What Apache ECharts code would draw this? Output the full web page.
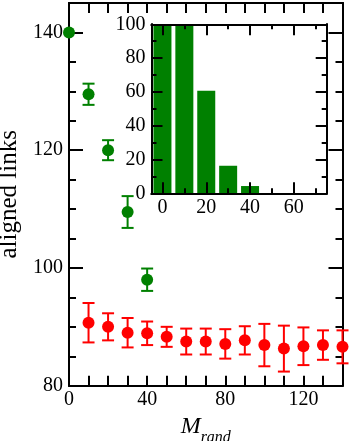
<!DOCTYPE html>
<html>
<head>
<meta charset="utf-8">
<script src="https://cdn.jsdelivr.net/npm/echarts@6/dist/echarts.min.js"></script>
<style>
  html, body { margin: 0; padding: 0; background: #fff; }
  #chart { width: 349px; height: 441px; }
</style>
</head>
<body>
<div id="chart"></div>
<script>
// main panel: aligned links vs M_rand
var greenX = [0, 10, 20, 30, 40];
var greenY = [140, 129.5, 120, 109.5, 98];
var greenErr = [0, 1.8, 1.7, 2.7, 1.9];

var redX = [10, 20, 30, 40, 50, 60, 70, 80, 90, 100, 110, 120, 130, 140];
var redY = [90.7, 90.0, 89.0, 88.9, 88.3, 87.5, 87.5, 87.1, 87.7, 86.9, 86.3, 86.7, 86.9, 86.6];
var redErr = [3.35, 2.3, 2.5, 2.0, 1.7, 2.2, 2.2, 2.5, 2.4, 3.6, 3.9, 3.2, 2.5, 2.8];

// inset histogram
var binX = [0, 10, 20, 30, 40];
var binH = [100, 100, 60.7, 16.3, 4.3];

var insetLabelX = [0, 20, 40, 60];
var insetMinorX = [10, 30, 50, 70];

var FONT = 'Liberation Serif';
var GREEN = '#008000';
var RED = '#ff0000';

function pts(xs, ys, es) {
    var out = [];
    for (var i = 0; i < xs.length; i++) {
        out.push([xs[i], ys[i], es ? es[i] : 0]);
    }
    return out;
}

function errorBars(color) {
    return function (params, api) {
        var x = api.value(0), y = api.value(1), e = api.value(2);
        if (!e) return null;
        var top = api.coord([x, y + e]);
        var bot = api.coord([x, y - e]);
        var w = 6;
        var st = { stroke: color, lineWidth: 2 };
        return {
            type: 'group',
            children: [
                { type: 'line', shape: { x1: top[0], y1: top[1], x2: bot[0], y2: bot[1] }, style: st },
                { type: 'line', shape: { x1: top[0] - w, y1: top[1], x2: top[0] + w, y2: top[1] }, style: st },
                { type: 'line', shape: { x1: bot[0] - w, y1: bot[1], x2: bot[0] + w, y2: bot[1] }, style: st }
            ]
        };
    };
}

function xAx(grid, pos, min, max, opt) {
    var a = {
        type: 'value', gridIndex: grid, position: pos, min: min, max: max,
        splitLine: { show: false },
        axisLine: { show: true, onZero: false, lineStyle: { color: '#000', width: 2 } },
        axisTick: { show: true, inside: true, length: 10, lineStyle: { color: '#000', width: 2 } },
        axisLabel: { show: false }
    };
    return Object.assign(a, opt || {});
}

var chart = echarts.init(document.getElementById('chart'));

var option = {
    animation: false,
    backgroundColor: '#fff',
    grid: [
        { left: 69, top: 3, width: 273.5, height: 382.7, outerBoundsMode: 'none', containLabel: false },
        { left: 151.5, top: 24.3, width: 175.2, height: 169, outerBoundsMode: 'none', containLabel: false,
          show: true, backgroundColor: '#fff', borderWidth: 0 }
    ],
    xAxis: [
        // main bottom
        xAx(0, 'bottom', 0, 140, {
            interval: 10,
            axisLabel: {
                show: true, margin: 4, color: '#000', fontFamily: FONT, fontSize: 20,
                formatter: function (v) { return v % 40 === 0 ? String(v) : ''; }
            },
            name: '{m|M}{s|rand}',
            nameLocation: 'middle',
            nameGap: 14,
            nameTextStyle: {
                verticalAlign: 'top',
                rich: {
                    m: { fontFamily: FONT, fontSize: 24, fontStyle: 'italic', color: '#000', verticalAlign: 'top' },
                    s: { fontFamily: FONT, fontSize: 16, fontStyle: 'italic', color: '#000', verticalAlign: 'top', padding: [15, 0, 0, 0] }
                }
            }
        }),
        // main top
        xAx(0, 'top', 0, 140, { interval: 10 }),
        // inset bottom, long ticks + labels
        xAx(1, 'bottom', -5, 75, {
            z: 5,
            axisTick: { show: true, inside: true, length: 11, customValues: insetLabelX, lineStyle: { color: '#000', width: 2 } },
            axisLabel: { show: true, margin: 4, color: '#000', fontFamily: FONT, fontSize: 20, customValues: insetLabelX }
        }),
        // inset bottom, short ticks
        xAx(1, 'bottom', -5, 75, {
            z: 5,
            axisTick: { show: true, inside: true, length: 5, customValues: insetMinorX, lineStyle: { color: '#000', width: 2 } }
        }),
        // inset top
        xAx(1, 'top', -5, 75, {
            z: 5,
            axisTick: { show: true, inside: true, length: 11, customValues: insetLabelX, lineStyle: { color: '#000', width: 2 } }
        }),
        xAx(1, 'top', -5, 75, {
            z: 5,
            axisTick: { show: true, inside: true, length: 5, customValues: insetMinorX, lineStyle: { color: '#000', width: 2 } }
        })
    ],
    yAxis: [
        // main left, minor ticks + labels
        xAx(0, 'left', 80, 145, {
            interval: 5,
            axisTick: { show: true, inside: true, length: 7, lineStyle: { color: '#000', width: 2 } },
            axisLabel: {
                show: true, margin: 6, color: '#000', fontFamily: FONT, fontSize: 20,
                formatter: function (v) { return v % 20 === 0 && v < 145 ? String(v) : ''; }
            },
            name: 'aligned links',
            nameLocation: 'middle',
            nameGap: 40,
            nameTextStyle: { fontFamily: FONT, fontSize: 25, color: '#000' }
        }),
        // main left, major ticks
        xAx(0, 'left', 80, 145, {
            interval: 20,
            axisTick: { show: true, inside: true, length: 14, lineStyle: { color: '#000', width: 2 } }
        }),
        // main right
        xAx(0, 'right', 80, 145, {
            interval: 5,
            axisTick: { show: true, inside: true, length: 7, lineStyle: { color: '#000', width: 2 } }
        }),
        xAx(0, 'right', 80, 145, {
            interval: 20,
            axisTick: { show: true, inside: true, length: 14, lineStyle: { color: '#000', width: 2 } }
        }),
        // inset left
        xAx(1, 'left', 0, 100, {
            z: 5, interval: 10,
            axisTick: { show: true, inside: true, length: 5, lineStyle: { color: '#000', width: 2 } },
            axisLabel: {
                show: true, margin: 6, color: '#000', fontFamily: FONT, fontSize: 20,
                formatter: function (v) { return v % 20 === 0 ? String(v) : ''; }
            }
        }),
        xAx(1, 'left', 0, 100, {
            z: 5, interval: 20,
            axisTick: { show: true, inside: true, length: 11, lineStyle: { color: '#000', width: 2 } }
        }),
        // inset right
        xAx(1, 'right', 0, 100, {
            z: 5, interval: 10,
            axisTick: { show: true, inside: true, length: 5, lineStyle: { color: '#000', width: 2 } }
        }),
        xAx(1, 'right', 0, 100, {
            z: 5, interval: 20,
            axisTick: { show: true, inside: true, length: 11, lineStyle: { color: '#000', width: 2 } }
        })
    ],
    series: [
        {
            type: 'custom', xAxisIndex: 0, yAxisIndex: 0,
            renderItem: errorBars(GREEN),
            data: pts(greenX, greenY, greenErr), z: 3
        },
        {
            type: 'scatter', xAxisIndex: 0, yAxisIndex: 0,
            symbol: 'circle', symbolSize: 12, clip: false,
            itemStyle: { color: GREEN, opacity: 1 },
            data: pts(greenX, greenY), z: 4
        },
        {
            type: 'custom', xAxisIndex: 0, yAxisIndex: 0,
            renderItem: errorBars(RED),
            data: pts(redX, redY, redErr), z: 3
        },
        {
            type: 'scatter', xAxisIndex: 0, yAxisIndex: 0,
            symbol: 'circle', symbolSize: 12, clip: false,
            itemStyle: { color: RED, opacity: 1 },
            data: pts(redX, redY), z: 4
        },
        {
            type: 'bar', xAxisIndex: 2, yAxisIndex: 4,
            barWidth: 18,
            itemStyle: { color: GREEN },
            data: pts(binX, binH).map(function (d) { return [d[0], d[1]]; }),
            z: 2
        }
    ]
};

chart.setOption(option);
</script>
</body>
</html>
